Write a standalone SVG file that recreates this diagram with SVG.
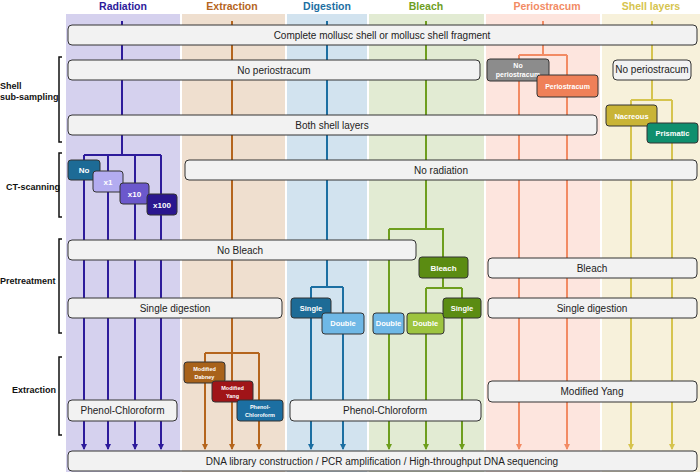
<svg xmlns="http://www.w3.org/2000/svg" width="700" height="472" viewBox="0 0 700 472">
<style>
text{font-family:"Liberation Sans",Arial,sans-serif}
.hd{font-size:10.5px;font-weight:bold;text-anchor:middle}
.lab{font-size:9px;font-weight:bold;fill:#111}
.box{fill:#f2f2f2;stroke:#333;stroke-width:1}
.cb{stroke:#333;stroke-width:1}
.t{font-size:10px;fill:#222;text-anchor:middle}
.tw{font-weight:bold;fill:#fff;text-anchor:middle}
.br{fill:none;stroke:#111;stroke-width:1.5}
.ln{fill:none;stroke-width:2}
</style>
<defs>
<marker id="aR" viewBox="0 0 6 6" refX="5" refY="3" markerWidth="6" markerHeight="6" markerUnits="userSpaceOnUse" orient="auto"><path d="M0,0 L6,3 L0,6 z" fill="#2d1b9b"/></marker>
<marker id="aE" viewBox="0 0 6 6" refX="5" refY="3" markerWidth="6" markerHeight="6" markerUnits="userSpaceOnUse" orient="auto"><path d="M0,0 L6,3 L0,6 z" fill="#b5651d"/></marker>
<marker id="aD" viewBox="0 0 6 6" refX="5" refY="3" markerWidth="6" markerHeight="6" markerUnits="userSpaceOnUse" orient="auto"><path d="M0,0 L6,3 L0,6 z" fill="#1c6fa2"/></marker>
<marker id="aB" viewBox="0 0 6 6" refX="5" refY="3" markerWidth="6" markerHeight="6" markerUnits="userSpaceOnUse" orient="auto"><path d="M0,0 L6,3 L0,6 z" fill="#6e9e1e"/></marker>
<marker id="aP" viewBox="0 0 6 6" refX="5" refY="3" markerWidth="6" markerHeight="6" markerUnits="userSpaceOnUse" orient="auto"><path d="M0,0 L6,3 L0,6 z" fill="#f28b64"/></marker>
<marker id="aS" viewBox="0 0 6 6" refX="5" refY="3" markerWidth="6" markerHeight="6" markerUnits="userSpaceOnUse" orient="auto"><path d="M0,0 L6,3 L0,6 z" fill="#d6c44e"/></marker>
</defs>
<rect width="700" height="472" fill="#fff"/>
<g id="columns">
<rect x="66" y="14" width="114" height="458" fill="#d5d1ee"/>
<rect x="182" y="14" width="103" height="458" fill="#efdfcf"/>
<rect x="287" y="14" width="80" height="458" fill="#d2e3ef"/>
<rect x="369" y="14" width="115" height="458" fill="#e2ebd3"/>
<rect x="486" y="14" width="114" height="458" fill="#fde5de"/>
<rect x="602" y="14" width="98" height="458" fill="#f7f1db"/>
<text class="hd" x="123" y="10" fill="#2d1b9b">Radiation</text>
<text class="hd" x="232" y="10" fill="#b5651d">Extraction</text>
<text class="hd" x="327" y="10" fill="#1c6fa2">Digestion</text>
<text class="hd" x="426" y="10" fill="#6e9e1e">Bleach</text>
<text class="hd" x="547" y="10" fill="#f28b64">Periostracum</text>
<text class="hd" x="651" y="10" fill="#d6c44e">Shell layers</text>
</g>
<g id="stages">
<path class="br" d="M62,57 H59 V142 H62"/>
<text class="lab" x="0" y="89">Shell</text>
<text class="lab" x="0" y="100">sub-sampling</text>
<path class="br" d="M62,153 H59 V217 H62"/>
<text class="lab" x="6" y="190">CT-scanning</text>
<path class="br" d="M62,239 H59 V333 H62"/>
<text class="lab" x="0" y="284">Pretreatment</text>
<path class="br" d="M62,357 H59 V435 H62"/>
<text class="lab" x="12" y="393">Extraction</text>
</g>
<g id="connectors">
<g stroke="#2d1b9b" class="ln">
<path d="M122,21 V155 M84,155 H161"/>
<path d="M84,155 V449" marker-end="url(#aR)"/>
<path d="M108,155 V449" marker-end="url(#aR)"/>
<path d="M135,155 V449" marker-end="url(#aR)"/>
<path d="M161,155 V449" marker-end="url(#aR)"/>
</g>
<g stroke="#b5651d" class="ln">
<path d="M232,21 V449" marker-end="url(#aE)"/>
<path d="M205,353 H259"/>
<path d="M205,353 V449" marker-end="url(#aE)"/>
<path d="M259,353 V449" marker-end="url(#aE)"/>
</g>
<g stroke="#1c6fa2" class="ln">
<path d="M327,21 V287 M311,287 H343"/>
<path d="M311,287 V449" marker-end="url(#aD)"/>
<path d="M343,287 V449" marker-end="url(#aD)"/>
</g>
<g stroke="#6e9e1e" class="ln">
<path d="M426,21 V229 M389,229 H443 V288 M426,288 H462"/>
<path d="M389,229 V449" marker-end="url(#aB)"/>
<path d="M426,288 V449" marker-end="url(#aB)"/>
<path d="M462,288 V449" marker-end="url(#aB)"/>
</g>
<g stroke="#f28b64" class="ln">
<path d="M543,21 V55 M519,55 H567"/>
<path d="M519,55 V449" marker-end="url(#aP)"/>
<path d="M567,55 V449" marker-end="url(#aP)"/>
</g>
<g stroke="#d6c44e" class="ln">
<path d="M652,21 V100 M631,100 H672"/>
<path d="M631,100 V449" marker-end="url(#aS)"/>
<path d="M672,100 V449" marker-end="url(#aS)"/>
</g>
</g>
<g id="n-complete"><rect class="box" x="68" y="25" width="629" height="20" rx="4"/><text class="t" x="382" y="38.5">Complete mollusc shell or mollusc shell fragment</text></g>
<g id="n-noperio-main"><rect class="box" x="68" y="60" width="412" height="20" rx="4"/><text class="t" x="274" y="73.5">No periostracum</text></g>
<g id="n-noperio-p"><rect class="cb" x="487" y="59" width="62" height="22" rx="3" fill="#8c8c8c"/><text class="tw" font-size="7" x="518" y="68">No</text><text class="tw" font-size="7" x="518" y="77">periostracum</text></g>
<g id="n-perio"><rect class="cb" x="537" y="75" width="61" height="22" rx="3" fill="#ef8058"/><text class="tw" font-size="7" x="567.5" y="88.5">Periostracum</text></g>
<g id="n-noperio-s"><rect class="box" x="613" y="60" width="78" height="20" rx="4"/><text class="t" font-size="8.3" x="652" y="73">No periostracum</text></g>
<g id="n-both"><rect class="box" x="68" y="115" width="529" height="20" rx="4"/><text class="t" x="332" y="128.5">Both shell layers</text></g>
<g id="n-nacreous"><rect class="cb" x="606" y="105" width="51" height="21" rx="3" fill="#c9b436"/><text class="tw" font-size="7.5" x="631.5" y="118.5">Nacreous</text></g>
<g id="n-prismatic"><rect class="cb" x="647" y="123" width="51" height="20" rx="3" fill="#0f8f6e"/><text class="tw" font-size="7.5" x="672.5" y="136">Prismatic</text></g>
<g id="n-noradiation"><rect class="box" x="185" y="160" width="512" height="20" rx="4"/><text class="t" x="441" y="173.5">No radiation</text></g>
<g id="n-rno"><rect class="cb" x="68" y="160" width="32" height="20" rx="3" fill="#1d6b96"/><text class="tw" font-size="8" x="84" y="173">No</text></g>
<g id="n-x1"><rect class="cb" x="93" y="171" width="30" height="21" rx="3" fill="#b3acf0"/><text class="tw" font-size="8" x="108" y="184.5">x1</text></g>
<g id="n-x10"><rect class="cb" x="120" y="183" width="29" height="21" rx="3" fill="#6b58cc"/><text class="tw" font-size="8" x="134.5" y="196.5">x10</text></g>
<g id="n-x100"><rect class="cb" x="147" y="194" width="30" height="21" rx="3" fill="#2a168f"/><text class="tw" font-size="8" x="162" y="207.5">x100</text></g>
<g id="n-nobleach"><rect class="box" x="68" y="240" width="348" height="20" rx="4"/><text class="t" x="240" y="253.5">No Bleach</text></g>
<g id="n-bleach"><rect class="cb" x="419" y="257" width="49" height="21" rx="3" fill="#5b8c12"/><text class="tw" font-size="8" x="443.5" y="270.5">Bleach</text></g>
<g id="n-bleach-r"><rect class="box" x="488" y="258" width="209" height="20" rx="4"/><text class="t" x="592" y="271.5">Bleach</text></g>
<g id="n-single-l"><rect class="box" x="68" y="298" width="214" height="20" rx="4"/><text class="t" x="175" y="311.5">Single digestion</text></g>
<g id="n-dsingle"><rect class="cb" x="291" y="298" width="40" height="20" rx="3" fill="#1d6b96"/><text class="tw" font-size="7.5" x="311" y="310.5">Single</text></g>
<g id="n-ddouble"><rect class="cb" x="322" y="313" width="42" height="21" rx="3" fill="#6fb8e6"/><text class="tw" font-size="7.5" x="343" y="326">Double</text></g>
<g id="n-bdouble-blue"><rect class="cb" x="373" y="313" width="31" height="21" rx="3" fill="#6fb8e6"/><text class="tw" font-size="7.5" x="388.5" y="326">Double</text></g>
<g id="n-bdouble"><rect class="cb" x="407" y="313" width="37" height="21" rx="3" fill="#9dc43f"/><text class="tw" font-size="7.5" x="425.5" y="326">Double</text></g>
<g id="n-bsingle"><rect class="cb" x="443" y="298" width="38" height="20" rx="3" fill="#5b8c12"/><text class="tw" font-size="7.5" x="462" y="310.5">Single</text></g>
<g id="n-single-r"><rect class="box" x="488" y="298" width="209" height="20" rx="4"/><text class="t" x="592" y="311.5">Single digestion</text></g>
<g id="n-dabney"><rect class="cb" x="184" y="362" width="41" height="21" rx="3" fill="#a8621a"/><text class="tw" font-size="5.5" x="204.5" y="371">Modified</text><text class="tw" font-size="5.5" x="204.5" y="378.5">Dabney</text></g>
<g id="n-myang"><rect class="cb" x="212" y="381" width="41" height="21" rx="3" fill="#a01418"/><text class="tw" font-size="5.5" x="232.5" y="390">Modified</text><text class="tw" font-size="5.5" x="232.5" y="397.5">Yang</text></g>
<g id="n-pc-small"><rect class="cb" x="237" y="400" width="46" height="21" rx="3" fill="#1c6fa2"/><text class="tw" font-size="5.5" x="260" y="409">Phenol-</text><text class="tw" font-size="5.5" x="260" y="416.5">Chloroform</text></g>
<g id="n-yang-r"><rect class="box" x="488" y="381" width="209" height="21" rx="4"/><text class="t" x="592" y="395">Modified Yang</text></g>
<g id="n-pc-l"><rect class="box" x="68" y="400" width="109" height="21" rx="4"/><text class="t" x="122.5" y="414">Phenol-Chloroform</text></g>
<g id="n-pc-m"><rect class="box" x="290" y="400" width="191" height="21" rx="4"/><text class="t" x="385" y="414">Phenol-Chloroform</text></g>
<g id="n-dna"><rect class="box" x="68" y="451" width="629" height="20" rx="4"/><text class="t" x="382" y="464.5">DNA library construction / PCR amplification / High-throughput DNA sequencing</text></g>
</svg>
